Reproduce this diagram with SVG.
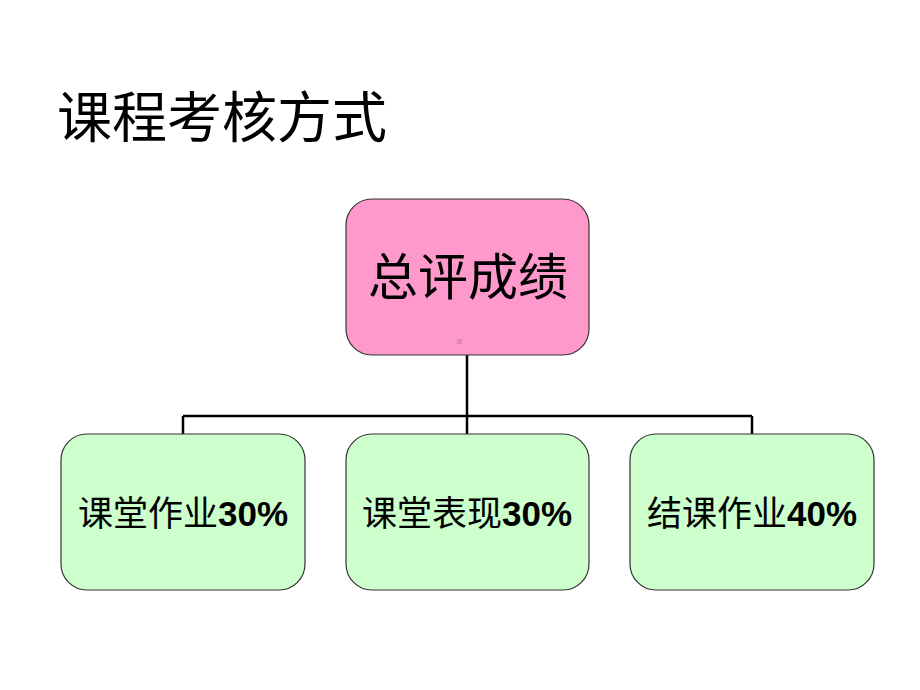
<svg xmlns="http://www.w3.org/2000/svg" width="920" height="690" viewBox="0 0 920 690">
<style>
.box{stroke:#333;stroke-width:1.2}
.root{fill:#FF99CC}
.leaf{fill:#CCFFCC}
.t{font-family:"Liberation Sans","Noto Sans CJK SC",sans-serif;fill:#000;text-anchor:middle}
.n{font-weight:bold}
.conn{stroke:#000;stroke-width:2.5;fill:none}
</style>
<rect width="920" height="690" fill="#fff"/>
<text class="t" x="57" y="137" font-size="55" style="text-anchor:start">课程考核方式</text>
<g id="connectors">
<path class="conn" d="M467,355 V416 M183,416 H752 M183,416 V434 M467,416 V434 M752,416 V434"/>
</g>
<g id="root">
<rect class="box root" x="346" y="199" width="243" height="156" rx="26"/>
<rect x="457" y="339" width="5" height="5" fill="#E08AB8"/>
<text class="t" x="468" y="295" font-size="50">总评成绩</text>
</g>
<g id="n1">
<rect class="box leaf" x="61" y="434" width="244" height="156" rx="26"/>
<text class="t" x="183" y="526" font-size="35">课堂作业<tspan class="n">30%</tspan></text>
</g>
<g id="n2">
<rect class="box leaf" x="346" y="434" width="243" height="156" rx="26"/>
<text class="t" x="467" y="526" font-size="35">课堂表现<tspan class="n">30%</tspan></text>
</g>
<g id="n3">
<rect class="box leaf" x="630" y="434" width="244" height="156" rx="26"/>
<text class="t" x="752" y="526" font-size="35">结课作业<tspan class="n">40%</tspan></text>
</g>
</svg>
